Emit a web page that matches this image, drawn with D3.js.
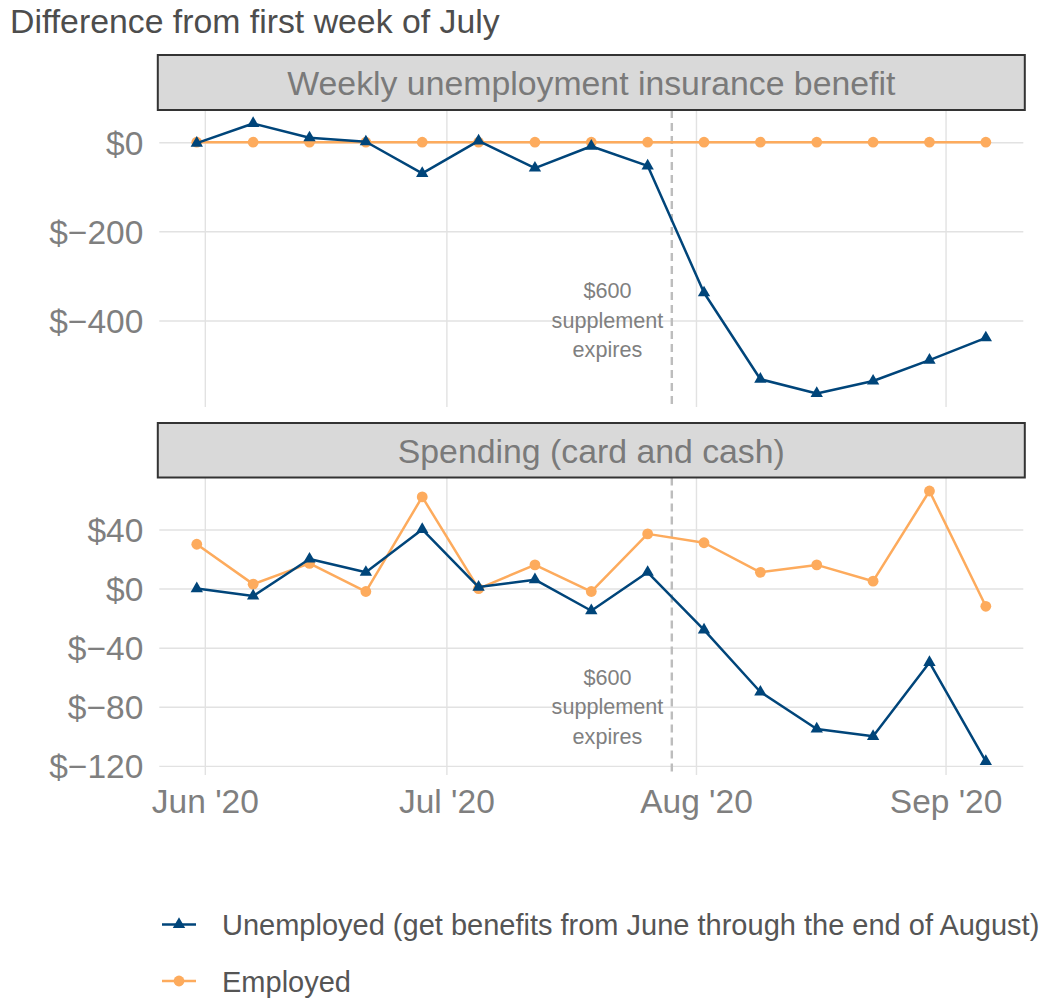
<!DOCTYPE html>
<html>
<head>
<meta charset="utf-8">
<title>Difference from first week of July</title>
<style>
  body { margin: 0; background: #fff; }
  svg { display: block; font-family: "Liberation Sans", Arial, Helvetica, sans-serif; }
  .grid line { stroke: #e2e2e2; stroke-width: 1.4px; }
  .grid .domain { display: none; }
  .axis .domain, .axis line { display: none; }
  .axis text { fill: #7f7f7f; font-size: 33.5px; }
  .strip rect { fill: #d9d9d9; stroke: #333; stroke-width: 2px; }
  .strip text { fill: #7a7a7a; font-size: 33.8px; text-anchor: middle; }
  .note { fill: #808080; font-size: 21.6px; text-anchor: middle; }
  .expiry { stroke: #bdbdbd; stroke-width: 2.4px; stroke-dasharray: 8 5; }
  .series { fill: none; stroke-width: 2.5px; stroke-linejoin: round; }
  .title { fill: #4d4d4d; font-size: 33.8px; }
  .legend text { fill: #555; font-size: 29px; }
</style>
<script src="https://d3js.org/d3.v7.min.js"></script>
</head>
<body>
<div id="chart"></div>
<script>
// weekly observations
const weeks = ["2020-05-31", "2020-06-07", "2020-06-14", "2020-06-21", "2020-06-28",
               "2020-07-05", "2020-07-12", "2020-07-19", "2020-07-26", "2020-08-02",
               "2020-08-09", "2020-08-16", "2020-08-23", "2020-08-30", "2020-09-06"];

const benefitUnemployed = [-2, 42, 10, 1, -70, 3, -58, -9, -53, -338, -532, -564, -536, -489, -439];
const benefitEmployed   = [0, 0, 0, 0, 0, 0, 0, 0, 0, 0, 0, 0, 0, 0, 0];
const spendingUnemployed = [0, -5, 20, 11, 40, 1, 6, -15, 11, -28, -70, -95, -100, -50, -117];
const spendingEmployed   = [30, 3, 17, -2, 62, 0, 16, -2, 37, 31, 11, 16, 5, 66, -12];

const benefitTicks  = [0, -200, -400];
const spendingTicks = [40, 0, -40, -80, -120];
const monthTicks  = ["2020-06-01", "2020-07-01", "2020-08-01", "2020-09-01"];
const monthLabels = ["Jun '20", "Jul '20", "Aug '20", "Sep '20"];

const expiryDate = "2020-07-29";
const noteDate = "2020-07-21";
const noteLines = ["$600", "supplement", "expires"];

const seriesNames  = ["Unemployed (get benefits from June through the end of August)", "Employed"];
const seriesColors = ["#00457a", "#fdab5d"];
const seriesShapes = ["triangle", "circle"];

const panelTitles = ["Weekly unemployment insurance benefit", "Spending (card and cash)"];

const width = 1042, height = 1000;
const left = 159.3, right = 1023.3;
const parse = d3.timeParse("%Y-%m-%d");
const dates = weeks.map(parse);

// ggplot-like padded extent
function expand(ext, mult) {
  const pad = (ext[1] - ext[0]) * mult;
  return [ext[0] - pad, ext[1] + pad];
}

const dateExt = d3.extent(dates);
const dayPad = (dateExt[1] - dateExt[0]) * 0.0475;
const x = d3.scaleTime()
  .domain([new Date(+dateExt[0] - dayPad), new Date(+dateExt[1] + dayPad)])
  .range([left, right]);

const panels = [
  { title: panelTitles[0], series: [benefitUnemployed, benefitEmployed], ticks: benefitTicks,
    stripTop: 55, top: 110, bottom: 407, noteAt: -400 },
  { title: panelTitles[1], series: [spendingUnemployed, spendingEmployed], ticks: spendingTicks,
    stripTop: 423, top: 477.5, bottom: 775, noteAt: -80 }
];

const fmt = v => v < 0 ? "$\u2212" + Math.abs(v) : "$" + v;

const svg = d3.select("#chart").append("svg")
  .attr("width", width)
  .attr("height", height);

svg.append("text")
  .attr("class", "title")
  .attr("x", 10)
  .attr("y", 33)
  .text("Difference from first week of July");

function drawMarker(sel, shape, color) {
  if (shape === "triangle") {
    sel.append("path")
      .attr("d", d3.symbol(d3.symbolTriangle, 66)())
      .attr("fill", color);
  } else {
    sel.append("circle")
      .attr("r", 5.4)
      .attr("fill", color);
  }
}

panels.forEach((p, pi) => {
  const allVals = p.series.flat();
  const y = d3.scaleLinear()
    .domain(expand(d3.extent(allVals), 0.05))
    .range([p.bottom, p.top]);

  const g = svg.append("g");

  // grid lines
  g.append("g")
    .attr("class", "grid")
    .attr("transform", `translate(${left},0)`)
    .call(d3.axisLeft(y).tickValues(p.ticks).tickSize(-(right - left)).tickFormat(""));

  g.append("g")
    .attr("class", "grid")
    .attr("transform", `translate(0,${p.bottom})`)
    .call(d3.axisBottom(x).tickValues(monthTicks.map(parse)).tickSize(-(p.bottom - p.top)).tickFormat(""));

  // y axis labels
  g.append("g")
    .attr("class", "axis")
    .attr("transform", `translate(${left},0)`)
    .call(d3.axisLeft(y).tickValues(p.ticks).tickSize(0).tickPadding(16).tickFormat(fmt))
    .selectAll("text").attr("dy", "0.36em");

  // expiry marker
  g.append("line")
    .attr("class", "expiry")
    .attr("x1", x(parse(expiryDate))).attr("x2", x(parse(expiryDate)))
    .attr("y1", p.top).attr("y2", p.bottom);

  const note = g.append("text")
    .attr("class", "note")
    .attr("x", x(parse(noteDate)))
    .attr("y", y(p.noteAt));
  noteLines.forEach((t, i) => {
    note.append("tspan")
      .attr("x", x(parse(noteDate)))
      .attr("y", y(p.noteAt) + 7.5 + (i - 1) * 29.5)
      .text(t);
  });

  // series (employed drawn first so unemployed stays on top where they overlap)
  [1, 0].forEach(si => {
    const vals = p.series[si];
    const line = d3.line()
      .x((d, i) => x(dates[i]))
      .y(d => y(d));
    g.append("path")
      .attr("class", "series")
      .attr("stroke", seriesColors[si])
      .attr("d", line(vals));
    const pts = g.append("g").selectAll("g")
      .data(vals)
      .enter().append("g")
      .attr("transform", (d, i) => `translate(${x(dates[i])},${y(d)})`);
    drawMarker(pts, seriesShapes[si], seriesColors[si]);
  });

  // facet strip
  const strip = g.append("g").attr("class", "strip");
  strip.append("rect")
    .attr("x", left - 1.5)
    .attr("y", p.stripTop)
    .attr("width", right - left + 3)
    .attr("height", p.top - p.stripTop);
  strip.append("text")
    .attr("x", (left + right) / 2)
    .attr("y", (p.stripTop + p.top) / 2 + 12.5)
    .text(p.title);

  if (pi === panels.length - 1) {
    g.append("g")
      .attr("class", "axis")
      .attr("transform", `translate(0,${p.bottom})`)
      .call(d3.axisBottom(x).tickValues(monthTicks.map(parse)).tickSize(0).tickPadding(0)
        .tickFormat((d, i) => monthLabels[i]))
      .selectAll("text").attr("dy", null).attr("y", 38);
  }
});

// legend
const legendRows = [924.5, 981];
const legend = svg.append("g").attr("class", "legend");
seriesNames.forEach((name, i) => {
  const row = legend.append("g").attr("transform", `translate(0,${legendRows[i]})`);
  row.append("line")
    .attr("x1", 162).attr("x2", 196)
    .attr("stroke", seriesColors[i])
    .attr("stroke-width", 2.5);
  drawMarker(row.append("g").attr("transform", "translate(179,0)"), seriesShapes[i], seriesColors[i]);
  row.append("text")
    .attr("x", 222)
    .attr("y", 10.5)
    .text(name);
});
</script>
</body>
</html>
